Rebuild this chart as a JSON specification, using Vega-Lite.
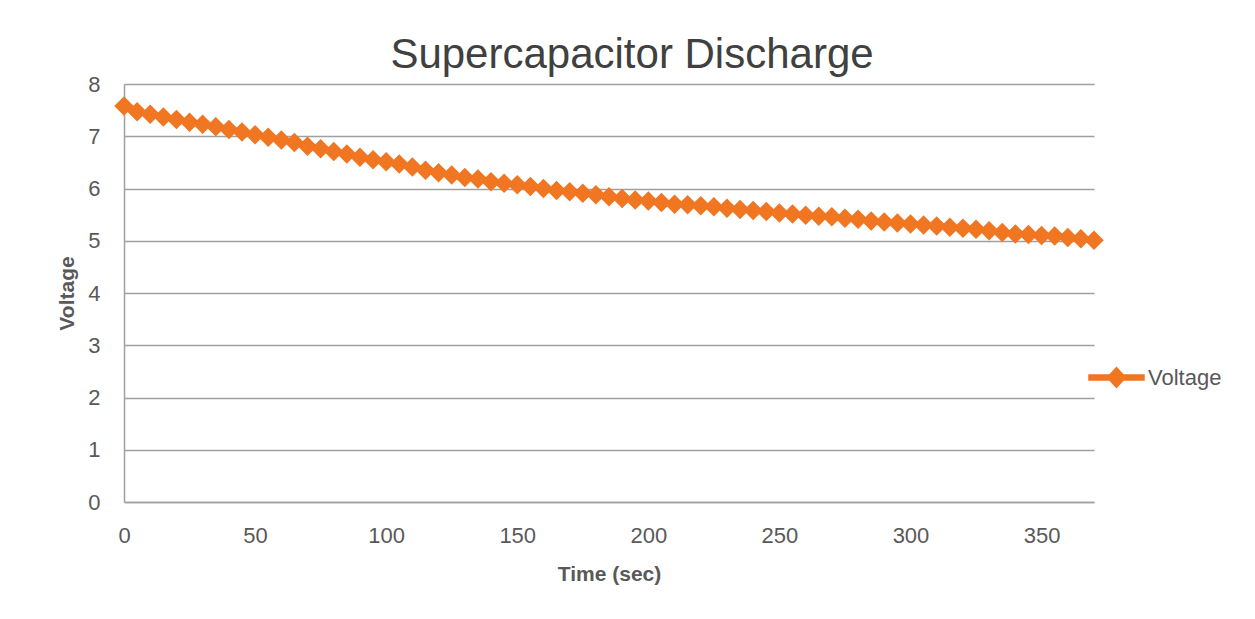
{
  "$schema": "https://vega.github.io/schema/vega-lite/v6.json",
  "width": 970,
  "height": 418,
  "autosize": {"type": "none"},
  "padding": {"left": 124, "top": 84, "right": 161, "bottom": 117},
  "background": "white",
  "title": {
    "text": "Supercapacitor Discharge",
    "font": "Liberation Sans",
    "fontSize": 42,
    "fontWeight": "normal",
    "color": "#404040",
    "anchor": "middle",
    "baseline": "alphabetic",
    "offset": 20,
    "dx": 23,
    "dy": 57
  },
  "config": {
    "view": {"stroke": null},
    "font": "Liberation Sans",
    "axis": {
      "labelFont": "Liberation Sans",
      "labelFontSize": 22,
      "labelColor": "#595959",
      "titleFont": "Liberation Sans",
      "titleFontSize": 21,
      "titleFontWeight": "bold",
      "titleColor": "#595959",
      "domainColor": "#a0a0a0",
      "domainWidth": 1.5,
      "gridColor": "#a0a0a0",
      "gridWidth": 1.5,
      "ticks": false,
      "tickSize": 0
    }
  },
  "data": {
    "values": [
      {"t": 0, "v": 7.58, "series": "Voltage"},
      {"t": 5, "v": 7.47, "series": "Voltage"},
      {"t": 10, "v": 7.42, "series": "Voltage"},
      {"t": 15, "v": 7.37, "series": "Voltage"},
      {"t": 20, "v": 7.32, "series": "Voltage"},
      {"t": 25, "v": 7.27, "series": "Voltage"},
      {"t": 30, "v": 7.23, "series": "Voltage"},
      {"t": 35, "v": 7.18, "series": "Voltage"},
      {"t": 40, "v": 7.13, "series": "Voltage"},
      {"t": 45, "v": 7.08, "series": "Voltage"},
      {"t": 50, "v": 7.03, "series": "Voltage"},
      {"t": 55, "v": 6.98, "series": "Voltage"},
      {"t": 60, "v": 6.93, "series": "Voltage"},
      {"t": 65, "v": 6.88, "series": "Voltage"},
      {"t": 70, "v": 6.81, "series": "Voltage"},
      {"t": 75, "v": 6.76, "series": "Voltage"},
      {"t": 80, "v": 6.71, "series": "Voltage"},
      {"t": 85, "v": 6.66, "series": "Voltage"},
      {"t": 90, "v": 6.6, "series": "Voltage"},
      {"t": 95, "v": 6.55, "series": "Voltage"},
      {"t": 100, "v": 6.51, "series": "Voltage"},
      {"t": 105, "v": 6.47, "series": "Voltage"},
      {"t": 110, "v": 6.41, "series": "Voltage"},
      {"t": 115, "v": 6.35, "series": "Voltage"},
      {"t": 120, "v": 6.3, "series": "Voltage"},
      {"t": 125, "v": 6.26, "series": "Voltage"},
      {"t": 130, "v": 6.21, "series": "Voltage"},
      {"t": 135, "v": 6.18, "series": "Voltage"},
      {"t": 140, "v": 6.13, "series": "Voltage"},
      {"t": 145, "v": 6.1, "series": "Voltage"},
      {"t": 150, "v": 6.07, "series": "Voltage"},
      {"t": 155, "v": 6.04, "series": "Voltage"},
      {"t": 160, "v": 6.0, "series": "Voltage"},
      {"t": 165, "v": 5.96, "series": "Voltage"},
      {"t": 170, "v": 5.94, "series": "Voltage"},
      {"t": 175, "v": 5.91, "series": "Voltage"},
      {"t": 180, "v": 5.88, "series": "Voltage"},
      {"t": 185, "v": 5.84, "series": "Voltage"},
      {"t": 190, "v": 5.81, "series": "Voltage"},
      {"t": 195, "v": 5.78, "series": "Voltage"},
      {"t": 200, "v": 5.76, "series": "Voltage"},
      {"t": 205, "v": 5.73, "series": "Voltage"},
      {"t": 210, "v": 5.7, "series": "Voltage"},
      {"t": 215, "v": 5.69, "series": "Voltage"},
      {"t": 220, "v": 5.67, "series": "Voltage"},
      {"t": 225, "v": 5.65, "series": "Voltage"},
      {"t": 230, "v": 5.62, "series": "Voltage"},
      {"t": 235, "v": 5.6, "series": "Voltage"},
      {"t": 240, "v": 5.58, "series": "Voltage"},
      {"t": 245, "v": 5.56, "series": "Voltage"},
      {"t": 250, "v": 5.53, "series": "Voltage"},
      {"t": 255, "v": 5.51, "series": "Voltage"},
      {"t": 260, "v": 5.49, "series": "Voltage"},
      {"t": 265, "v": 5.47, "series": "Voltage"},
      {"t": 270, "v": 5.46, "series": "Voltage"},
      {"t": 275, "v": 5.43, "series": "Voltage"},
      {"t": 280, "v": 5.41, "series": "Voltage"},
      {"t": 285, "v": 5.38, "series": "Voltage"},
      {"t": 290, "v": 5.36, "series": "Voltage"},
      {"t": 295, "v": 5.34, "series": "Voltage"},
      {"t": 300, "v": 5.32, "series": "Voltage"},
      {"t": 305, "v": 5.3, "series": "Voltage"},
      {"t": 310, "v": 5.28, "series": "Voltage"},
      {"t": 315, "v": 5.26, "series": "Voltage"},
      {"t": 320, "v": 5.24, "series": "Voltage"},
      {"t": 325, "v": 5.22, "series": "Voltage"},
      {"t": 330, "v": 5.19, "series": "Voltage"},
      {"t": 335, "v": 5.16, "series": "Voltage"},
      {"t": 340, "v": 5.13, "series": "Voltage"},
      {"t": 345, "v": 5.12, "series": "Voltage"},
      {"t": 350, "v": 5.1, "series": "Voltage"},
      {"t": 355, "v": 5.09, "series": "Voltage"},
      {"t": 360, "v": 5.06, "series": "Voltage"},
      {"t": 365, "v": 5.04, "series": "Voltage"},
      {"t": 370, "v": 5.01, "series": "Voltage"}
    ]
  },
  "mark": {
    "type": "line",
    "strokeWidth": 5,
    "point": {"shape": "diamond", "size": 380, "filled": true, "opacity": 1}
  },
  "encoding": {
    "x": {
      "field": "t",
      "type": "quantitative",
      "title": "Time (sec)",
      "scale": {"domain": [0, 370], "nice": false, "zero": false},
      "axis": {
        "values": [0, 50, 100, 150, 200, 250, 300, 350],
        "grid": false,
        "labelPadding": 23,
        "titlePadding": 17,
        "labelFlush": false
      }
    },
    "y": {
      "field": "v",
      "type": "quantitative",
      "title": "Voltage",
      "scale": {"domain": [0, 8], "nice": false},
      "axis": {
        "values": [0, 1, 2, 3, 4, 5, 6, 7, 8],
        "grid": true,
        "labelPadding": 24,
        "titlePadding": 10
      }
    },
    "color": {
      "field": "series",
      "type": "nominal",
      "scale": {"range": ["#F07622"]},
      "legend": {
        "title": null,
        "orient": "none",
        "legendX": 964,
        "legendY": 265,
        "symbolType": "M-1,-0.09L1,-0.09L1,0.09L-1,0.09ZM-0.33,0L0,-0.36L0.33,0L0,0.36Z",
        "symbolSize": 3025,
        "labelFont": "Liberation Sans",
        "labelFontSize": 22,
        "labelColor": "#595959",
        "labelOffset": 3,
        "encode": {
          "symbols": {
            "update": {
              "fill": {"value": "#F07622"},
              "stroke": {"value": "transparent"},
              "opacity": {"value": 1}
            }
          }
        }
      }
    }
  }
}
